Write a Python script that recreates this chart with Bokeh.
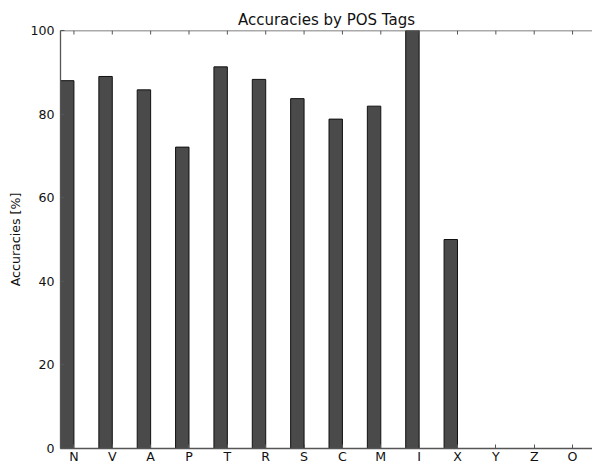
from bokeh.plotting import figure
from bokeh.models import Range1d, FixedTicker, LinearAxis, ColumnDataSource, Span
from bokeh.embed import file_html
from bokeh.resources import INLINE

# Data
tags = ["N", "V", "A", "P", "T", "R", "S", "C", "M", "I", "X", "Y", "Z", "O"]
accuracies = [88.0, 89.0, 85.8, 72.1, 91.3, 88.3, 83.7, 78.8, 81.9, 100.0, 50.0, 0.0, 0.0, 0.0]
y_ticks = [0, 20, 40, 60, 80, 100]

bar_width = 0.35
idx = list(range(len(tags)))
# ticks sit at each bar's right edge (bars span [i - width, i])
bar_centers = [i - bar_width / 2 for i in idx]

FONT = "DejaVu Sans"
TICK_SIZE = "12.6px"
AX_COLOR = "#555555"

p = figure(width=592, height=466, output_backend="svg", toolbar_location=None,
           x_range=Range1d(-bar_width, 14 * 532 / 537 - bar_width), y_range=Range1d(0, 100),
           min_border_left=60, min_border_right=0, min_border_top=30, min_border_bottom=18,
           x_axis_type=None, y_axis_type=None)

p.title.text = "Accuracies by POS Tags"
p.title.align = "center"
p.title.text_font = FONT
p.title.text_font_size = "15px"
p.title.text_font_style = "normal"
p.title.text_color = "#111111"
p.title.standoff = 4
p.title.offset = 0

p.grid.visible = False
p.outline_line_color = None
p.background_fill_color = "white"
p.border_fill_color = "white"

src = ColumnDataSource(dict(x=bar_centers, top=accuracies))
p.vbar(x="x", top="top", width=bar_width, bottom=0, source=src,
       fill_color="#4a4a4a", line_color="#111111", line_width=1)

# top spine with inward ticks
p.add_layout(Span(location=100, dimension="width", line_color=AX_COLOR, line_width=1.3))
tick_len = 4 * 100 / 418
p.segment(x0=idx, x1=idx, y0=[100] * len(idx), y1=[100 - tick_len] * len(idx),
          line_color=AX_COLOR, line_width=1)


def style(ax):
    ax.axis_line_color = AX_COLOR
    ax.axis_line_width = 1.3
    ax.major_tick_line_color = AX_COLOR
    ax.major_tick_in = 4
    ax.major_tick_out = 0
    ax.minor_tick_in = 0
    ax.minor_tick_out = 0
    ax.major_label_text_font = FONT
    ax.major_label_text_font_size = TICK_SIZE
    ax.major_label_text_color = "#111111"


xb = LinearAxis(ticker=FixedTicker(ticks=idx),
                major_label_overrides={i: t for i, t in enumerate(tags)})
style(xb)
xb.major_label_standoff = 0
p.add_layout(xb, "below")

yl = LinearAxis(ticker=FixedTicker(ticks=y_ticks), axis_label="Accuracies [%]")
style(yl)
yl.major_label_standoff = 6
yl.axis_label_standoff = 4
yl.axis_label_text_font = FONT
yl.axis_label_text_font_size = TICK_SIZE
yl.axis_label_text_font_style = "normal"
yl.axis_label_text_color = "#111111"
p.add_layout(yl, "left")

open("out.html", "w").write(file_html(p, INLINE))
